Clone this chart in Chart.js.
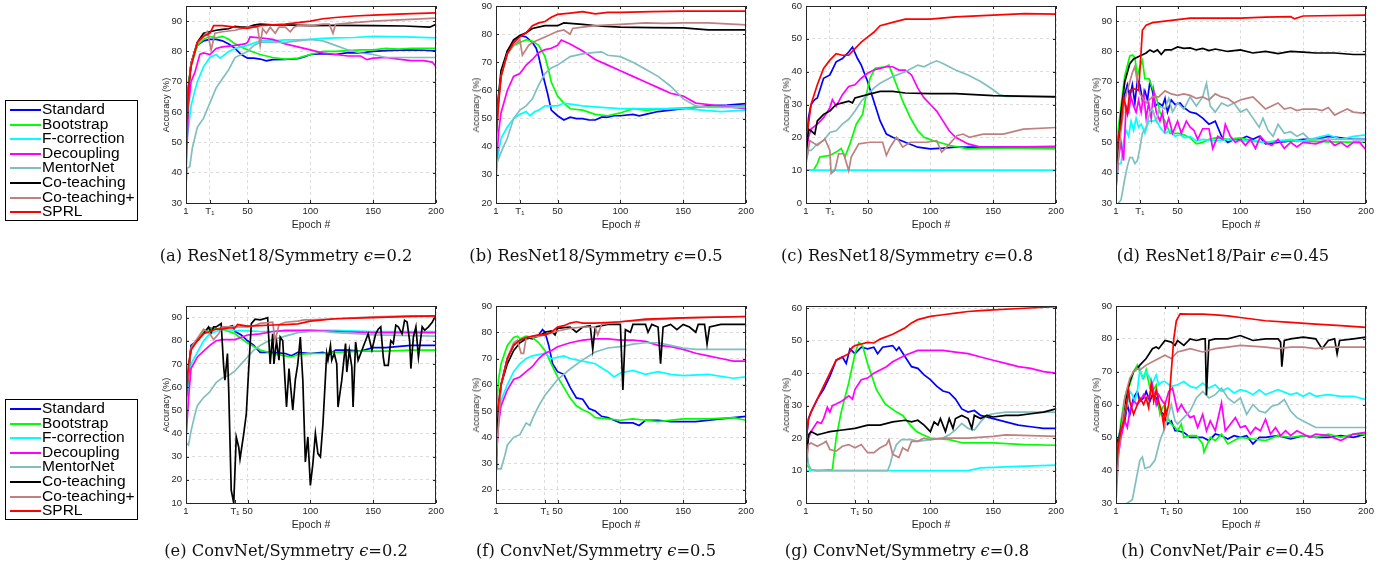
<!DOCTYPE html>
<html>
<head>
<meta charset="utf-8">
<script src="https://cdn.jsdelivr.net/npm/chart.js@4.4.1/dist/chart.umd.min.js"></script>
<style>
  body { margin: 0; background: #fff; width: 1396px; height: 569px; position: relative; overflow: hidden; font-family: "Liberation Sans", Arial, sans-serif; }
  .panel { position: absolute; }
  .ylab { position: absolute; font-size: 9.2px; color: #262626; transform: translate(-50%, -50%) rotate(-90deg); white-space: nowrap; }
  .xlab { position: absolute; font-size: 10.5px; color: #262626; transform: translate(-50%, -50%); white-space: nowrap; }
  .cap { position: absolute; font-family: "DejaVu Serif", serif; font-size: 16.3px; color: #111; transform: translate(-50%, -50%); white-space: nowrap; }
  .legend { position: absolute; left: 5px; width: 131px; border: 1px solid #000; background: #fff; padding: 1px 0; }
  .legend div { height: 14.6px; line-height: 14.6px; font-size: 15.5px; position: relative; padding-left: 36px; white-space: nowrap; }
  .legend span { position: absolute; left: 4px; top: 7px; width: 31px; height: 2px; }
</style>
</head>
<body>
<script>
const METHODS = ["Standard", "Bootstrap", "F-correction", "Decoupling", "MentorNet", "Co-teaching", "Co-teaching+", "SPRL"];
const KEYS = ["standard", "bootstrap", "fcorr", "decoupling", "mentornet", "coteach", "coteachPlus", "sprl"];
const COLORS = ["#0000ff", "#00ff00", "#00ffff", "#ff00ff", "#80bfbf", "#000000", "#bf8080", "#ff0000"];

const X_TICKS_TOP = [1, 20, 50, 100, 150, 200];   // T1 = 20
const X_TICKS_BOTTOM = [1, 40, 50, 100, 150, 200]; // T1 = 40

const CAPTIONS = [
	"(a) ResNet18/Symmetry <i>ϵ</i>=0.2", "(b) ResNet18/Symmetry <i>ϵ</i>=0.5",
	"(c) ResNet18/Symmetry <i>ϵ</i>=0.8", "(d) ResNet18/Pair <i>ϵ</i>=0.45",
	"(e) ConvNet/Symmetry <i>ϵ</i>=0.2", "(f) ConvNet/Symmetry <i>ϵ</i>=0.5",
	"(g) ConvNet/Symmetry <i>ϵ</i>=0.8", "(h) ConvNet/Pair <i>ϵ</i>=0.45"
];

// [epoch, accuracy]
const panelA = {
	standard: [[1,50],[3,68],[5,76],[8,80],[10,82],[15,83.5],[20,84],[25,84],[30,83.5],[35,82.5],[40,81],[45,79],[50,77.8],[55,77.8],[60,77.5],[65,76.9],[70,77.3],[80,77.4],[90,77.6],[95,78.2],[100,79],[110,79.3],[120,79],[130,79.6],[140,79.5],[150,80],[160,80.3],[175,80.5],[190,80.4],[200,80.2]],
	bootstrap: [[1,58],[3,70],[5,75],[10,82],[15,84],[20,85],[25,84.5],[30,85],[35,84],[40,82.5],[45,81.5],[50,80.5],[60,79],[70,78],[80,77.5],[90,77.8],[100,79],[110,80],[120,80],[130,80.3],[140,80.5],[150,80.5],[160,81],[170,80.8],[180,81],[200,81]],
	fcorr: [[1,48.5],[3,55],[5,62],[8,67],[10,70],[15,75],[20,78],[25,79],[28,77.8],[32,79],[35,80],[40,81],[45,81.5],[50,82],[60,83.5],[70,83.5],[80,83.8],[90,83.8],[100,84],[110,84.3],[120,84.5],[135,84.6],[150,85],[175,84.8],[200,84.5]],
	decoupling: [[1,40],[3,62],[5,70],[8,73],[12,79],[15,79.5],[20,79],[25,81],[30,81.5],[40,82],[48,82.5],[50,83],[52,84.8],[60,84.5],[70,84],[80,82.5],[90,81.5],[100,80.5],[110,79.5],[120,79],[130,78.5],[140,78.5],[145,77.3],[150,77.8],[160,78],[170,77.5],[180,77],[190,77],[197,76.5],[200,75]],
	mentornet: [[1,36],[2,41.5],[4,42],[6,48],[10,55],[15,58],[20,63],[25,68],[30,71],[35,74],[40,78],[45,79],[50,80],[55,82],[60,83],[70,83],[80,83],[90,83.5],[100,84],[110,83.5],[120,82],[130,80.5],[140,79.5],[150,79],[160,78],[180,78],[200,78]],
	coteach: [[1,48],[3,68],[5,76],[10,83],[15,86],[20,86.5],[25,87],[30,87.3],[35,87.5],[40,88.3],[45,88],[50,88],[55,88.7],[60,89],[70,88.8],[80,88.8],[100,88.5],[120,88.6],[150,88.5],[175,88.4],[195,88],[200,89]],
	coteachPlus: [[1,46],[3,68],[5,76],[10,83],[15,85],[18,86.5],[21,80.5],[24,86],[30,86.5],[40,87],[50,88],[55,88],[58,88],[60,82],[62,87.5],[65,86],[68,88],[72,86],[75,88],[80,88],[84,86.5],[87,88],[90,88.5],[100,88.5],[110,89],[115,89],[118,86],[120,89],[135,89.5],[150,90],[175,90.5],[200,91]],
	sprl: [[1,50],[3,68],[5,75],[10,83],[15,85],[20,86],[23,88.5],[30,88.5],[40,88],[50,87.6],[60,88.5],[80,89],[100,90],[110,90.8],[120,91.2],[135,91.7],[150,92],[175,92.4],[200,92.7]]
};

const panelB = {
	standard: [[1,44],[3,57],[5,65],[10,74],[15,77],[20,79.5],[25,79],[30,77],[33,75],[35,72],[38,66],[42,59],[45,53],[50,51],[55,49.5],[60,50.5],[65,50],[70,50],[75,49.5],[80,49.5],[85,50.5],[90,50.5],[95,51],[100,51],[110,51.5],[115,51],[120,51.5],[130,52.5],[140,53],[150,53.5],[160,54],[170,54.5],[185,54.8],[200,55.3]],
	bootstrap: [[1,47],[3,58],[5,65],[10,73],[15,76],[20,77],[25,78],[30,77.5],[35,76],[40,72],[43,67],[45,63],[50,58],[55,55.5],[60,53.5],[70,53],[80,51.5],[90,51],[100,52],[110,53.5],[120,53],[140,53.5],[160,54],[180,54.5],[200,54.5]],
	fcorr: [[1,33],[3,38],[5,43],[10,47],[15,50],[20,51.5],[25,52.5],[28,51],[32,52.5],[35,53],[40,54.5],[50,54.5],[55,55.5],[70,54.5],[85,54],[100,53.5],[125,53.5],[150,53.5],[165,53],[180,52.5],[200,53]],
	decoupling: [[1,30],[3,45],[5,52],[10,60],[15,65],[20,66],[25,69],[30,71],[35,73.5],[40,74.5],[45,75],[50,76],[53,77.9],[60,76.5],[70,74],[80,71],[90,69],[100,67],[110,65],[120,63],[130,61],[140,59],[150,58],[160,55.5],[170,55],[180,54.5],[190,54],[200,53.5]],
	mentornet: [[1,28],[2,34.5],[5,38],[10,43],[15,50],[20,53],[25,54.5],[30,57],[35,62],[40,66],[45,68],[50,69],[60,72],[70,73],[80,73.5],[85,73.7],[90,72.5],[100,72],[110,70],[120,67.5],[130,65],[140,61.5],[150,57],[160,54.5],[170,54],[200,54]],
	coteach: [[1,45],[3,58],[5,67],[10,74],[15,78],[20,79.5],[25,80.5],[30,82],[40,83],[50,83],[55,84],[70,83.5],[85,82.8],[100,82.5],[125,82.3],[150,82.2],[170,81.5],[200,81.5]],
	coteachPlus: [[1,40],[3,56],[5,65],[10,73],[15,76],[20,78],[22,72.5],[27,76],[30,77],[40,79],[50,81],[55,81.5],[60,80],[62,82],[70,82.5],[80,83],[100,83.5],[120,84],[135,83.8],[150,84],[170,84],[200,83.3]],
	sprl: [[1,43],[3,55],[5,65],[10,73],[15,77],[20,79],[25,80.5],[30,83],[35,84],[40,84.5],[45,86],[50,87],[60,87.5],[70,88],[80,87.2],[90,87.7],[100,87.7],[125,88],[150,88.2],[200,88.2]]
};

const panelC = {
	standard: [[1,15],[3,26],[5,30],[8,31.5],[10,32],[15,38],[20,39],[25,43],[30,44],[35,46],[38,47.5],[42,44],[45,42],[50,37],[55,31],[60,25],[65,21],[70,20],[80,18.5],[90,17],[100,16.5],[110,16.7],[120,17],[150,17],[200,17.2]],
	bootstrap: [[1,10],[7,10],[10,12],[12,14],[20,14.5],[25,15.5],[29,16.6],[32,14],[36,18],[41,24],[46,27],[49,33],[52,38],[56,41],[64,41.5],[67,42],[73,36],[78,31],[84,26],[90,22],[95,20],[102,19],[116,17.5],[130,16.5],[160,16.8],[200,16.5]],
	fcorr: [[1,10],[200,10]],
	decoupling: [[1,14],[3,20],[5,22.5],[10,24],[15,26],[20,29],[22,31.5],[25,29.5],[30,33],[35,35.5],[40,36],[45,38],[50,39.5],[55,40.5],[60,41],[65,41.5],[70,41.5],[75,40.5],[80,40.5],[85,39],[90,35],[95,32],[100,30],[105,28],[110,25],[115,22],[120,20],[130,18],[140,17],[150,17],[200,17.2]],
	mentornet: [[1,13],[3,16],[5,16],[10,18],[15,19],[20,21.5],[25,22],[30,24],[35,25.5],[40,28],[45,31],[50,33],[55,35],[60,36.5],[70,38.5],[80,40],[90,42],[95,41.5],[100,42.5],[105,43.3],[110,42.5],[120,40.5],[130,39],[140,37],[150,34.5],[155,33],[160,32.5],[200,32.5]],
	coteach: [[1,15],[3,22.5],[5,22],[8,21],[10,25],[15,27],[20,28],[25,30],[30,30.5],[35,31],[38,30.5],[40,32],[50,33],[60,34],[70,34],[80,33.5],[100,33.3],[120,33.3],[150,32.7],[200,32.3]],
	coteachPlus: [[1,12],[4,19],[10,17.5],[16,19.5],[20,16],[21,9],[24,10],[27,15],[31,15],[35,9.8],[37,14],[43,18],[52,18.5],[62,18.5],[65,14.5],[68,17],[73,20],[78,17],[84,18.5],[97,18.5],[105,19],[109,15.5],[113,17],[121,20.5],[126,21],[131,20],[142,21],[158,21],[174,22.5],[200,23]],
	sprl: [[1,20],[3,24],[5,30],[10,36],[15,41],[20,43.5],[25,45.5],[30,45],[35,45],[40,47],[45,49],[50,50.5],[55,52],[60,54],[70,55],[80,56],[90,56],[100,56],[120,56.7],[150,57.2],[175,57.7],[200,57.5]]
};

const panelD = {
	standard: [[1,38],[3,50],[5,57],[8,66],[10,69],[12,65],[14,69],[16,63],[18,70.5],[20,69],[22,64],[24,67],[26,64],[28,70],[30,67],[32,62],[35,63],[38,62],[40,64.5],[42,60],[45,64],[48,62.5],[52,63],[55,61.5],[60,60],[65,59.5],[70,58],[75,56],[80,57],[85,52],[90,50],[95,51],[100,51],[105,52],[110,51],[115,52],[120,49.5],[130,50],[140,50.5],[150,51],[160,51],[170,52],[180,51.5],[190,51],[200,51]],
	bootstrap: [[1,42],[3,55],[5,62],[8,72],[12,78.5],[14,78.8],[16,78],[18,72],[20,75],[22,77],[24,71],[27,71],[30,68],[33,65],[36,60],[40,57],[44,53],[48,53],[52,53],[55,52.5],[60,51.5],[65,49.5],[70,50],[75,51],[80,51.5],[90,51],[100,51.5],[110,50.5],[120,50],[130,50.5],[140,50.5],[150,50.5],[170,50.2],[200,50]],
	fcorr: [[1,36],[3,43],[5,43],[7,50],[9,54],[11,52],[13,57],[15,54],[17,58],[19,55],[21,56],[24,53],[27,57],[30,57],[33,57.5],[36,55],[40,53],[44,54],[48,52],[52,52.5],[56,51.5],[60,52],[65,50.5],[70,51],[80,50.5],[90,51],[100,50.5],[110,50.5],[120,50],[130,50.5],[140,51],[150,50.5],[160,51.5],[170,52.5],[180,51],[190,52],[200,52.5]],
	decoupling: [[1,35],[3,45],[5,50],[7,44],[9,62],[11,60],[13,65],[15,62],[17,60],[19,64],[21,60],[23,66],[25,58],[27,63],[29,58],[31,67],[33,60],[36,57],[38,60],[40,54],[43,58],[46,53],[50,57],[53,53],[57,57],[60,55],[63,54],[66,51],[70,54.5],[75,54.5],[78,48],[82,52],[86,51],[88,56],[92,52],[96,50],[100,51],[104,49],[108,51],[112,48],[116,52],[120,50],[125,49],[130,51],[135,48],[140,50],[145,48.5],[150,50],[160,49.5],[170,51],[175,49],[180,50],[185,48.5],[190,50],[195,50],[200,47.5]],
	mentornet: [[1,28],[3,30],[5,31],[8,38],[10,42],[12,45],[14,45],[16,43],[18,44],[20,48],[22,53],[25,55],[28,60],[30,61],[33,57],[36,62],[40,61],[43,64.5],[46,60],[50,63],[55,61],[60,65],[65,62],[70,65],[73,69.5],[76,62],[80,60],[85,63],[90,62],[95,63],[100,60],[105,61],[110,58],[115,55],[118,58],[122,54],[126,52],[130,56],[135,53],[140,53.5],[145,52],[150,53],[155,51],[160,51],[200,51]],
	coteach: [[1,40],[5,60],[8,70],[12,76],[15,77.5],[20,78.5],[25,79.5],[28,80.5],[31,79.8],[34,80.5],[37,79],[40,80.5],[45,80.5],[50,81.5],[55,81],[60,81.2],[65,80.5],[70,81],[75,80.3],[80,80.8],[90,80],[100,80.5],[110,79.5],[120,80],[130,79.3],[140,80],[150,79.8],[160,79.5],[175,79.5],[190,79],[200,79]],
	coteachPlus: [[1,35],[3,45],[5,54],[8,64],[10,67],[12,70],[14,73],[16,75],[18,70],[20,66],[25,63],[30,65],[35,65],[40,67],[45,66],[50,65.5],[55,66],[60,65.5],[65,64.5],[70,65],[75,64],[80,66],[85,65],[90,64.5],[95,63],[100,64],[105,64.5],[110,65],[115,63],[120,61],[125,62],[130,63],[135,61],[140,61.5],[145,60.5],[150,61],[160,61],[165,60.5],[170,61.5],[175,59],[180,60],[185,61],[190,60],[200,59.5]],
	sprl: [[1,43],[3,52],[5,56],[7,65],[10,59.5],[12,67],[15,67.7],[19,67.2],[21,80],[22,87],[25,88.7],[30,89.5],[40,90],[50,90.5],[60,91],[80,91],[100,91],[120,91.3],[140,91.5],[143,90.8],[150,91.7],[200,92]]
};

const panelE = {
	standard: [[1,55],[5,78],[10,80],[15,84],[20,85.5],[25,85],[30,85.5],[35,86],[38,86.5],[40,84],[45,82.5],[50,80],[55,78],[60,75],[70,75],[80,74.5],[85,73.5],[90,75],[100,74.5],[110,75],[115,74],[120,76],[130,76],[140,75.5],[150,77],[160,77],[180,78],[200,78]],
	bootstrap: [[1,58],[5,77],[10,80],[15,84],[20,85],[30,85],[35,84],[40,83],[45,81],[50,79],[55,77.5],[60,76],[70,74.5],[80,73.5],[85,73],[90,74],[100,74.5],[110,74.5],[120,75],[140,75.5],[160,75.5],[180,76],[200,76]],
	fcorr: [[1,52],[5,70],[10,75],[15,80],[20,83],[25,84],[30,85],[40,84.5],[50,84.3],[60,84],[80,84],[100,84.5],[120,84.5],[150,84],[200,84]],
	decoupling: [[1,37],[3,55],[5,68],[10,73],[15,75.5],[20,78],[25,80],[30,80.5],[40,80.5],[45,81.5],[50,82.5],[60,83],[70,84],[80,84.5],[100,84.5],[120,84],[150,83.5],[200,83.5]],
	mentornet: [[1,36],[3,35],[5,41],[8,48],[10,52],[15,55.5],[20,58],[25,62],[30,64],[35,65],[40,67],[45,70],[50,73],[55,76],[60,78],[65,79.5],[70,80.5],[80,82],[90,83.5],[100,84],[110,84],[120,83.5],[140,83],[150,82.5],[200,82]],
	coteach: [[1,55],[5,77],[10,80],[15,83],[19,86],[21,83.5],[23,86],[25,86],[29,87.4],[31,68.7],[32,63],[34,74.5],[35,58.6],[37,15.5],[39,10],[41,38.5],[43,34],[44,29],[47,40],[49,48.5],[51,68.7],[53,87.4],[56,89.3],[60,89],[64,89.6],[66,90],[68,70],[70,83],[71,70],[73,80],[75,71.6],[76,81.6],[78,80],[81,51.4],[83,68],[86,50],[88,63],[90,70],[92,81.6],[94,63],[96,27.7],[98,38.5],[100,17.6],[102,27],[104,40],[106,31.3],[108,29.9],[110,44],[113,74.5],[114,71.6],[116,78],[117,71.6],[119,74.5],[121,70],[122,51.4],[125,63],[128,78.8],[129,66.5],[131,76],[133,68.7],[134,51.4],[136,79.5],[138,71.6],[142,77.3],[146,83],[149,76],[152,83],[154,85],[156,86],[158,73],[159,69.4],[162,69.4],[164,80],[166,78.8],[168,86.7],[170,86],[173,83],[175,88.8],[177,88.1],[179,80],[180,68],[182,81.6],[184,86],[186,73],[189,86],[191,84.5],[194,86],[197,88],[200,91]],
	coteachPlus: [[1,55],[5,77],[10,81],[15,85],[20,83],[23,80.5],[27,83],[30,86],[40,86],[50,86],[55,86.5],[60,87.5],[70,88],[72,80],[75,87],[80,88],[90,88.5],[95,89],[100,89],[120,89.5],[150,90.3],[180,90.7],[200,90.5]],
	sprl: [[1,55],[3,70],[5,76],[10,80],[15,83],[20,84],[25,85],[30,85],[35,85.5],[40,85.5],[42,87],[50,86.3],[60,86.5],[70,86.8],[80,87],[90,87.3],[100,88.5],[120,89.5],[150,90],[180,90.5],[200,90.7]]
};

const panelF = {
	standard: [[1,44],[5,60],[10,70],[15,75],[20,77],[25,78],[30,77.5],[35,79],[38,81],[40,80],[43,75],[46,68],[50,65],[55,64],[60,59],[65,55],[70,54.5],[75,51],[80,50],[85,48],[90,47.5],[95,46.5],[100,45.5],[110,45.5],[115,44.5],[120,46.5],[130,46.5],[140,46],[150,46],[160,46],[180,47],[200,48]],
	bootstrap: [[1,48],[3,62],[5,68],[10,75],[15,78],[18,78.5],[20,77.5],[25,78.5],[30,78],[35,76],[40,73],[45,68],[50,63],[55,59],[60,55],[65,52],[70,50.5],[75,49.5],[80,47.5],[90,47],[100,46.5],[110,47],[120,46.5],[130,46],[150,47],[170,47],[190,47.5],[200,46.5]],
	fcorr: [[1,38],[5,54],[10,60],[15,65],[20,68],[25,70],[30,71],[35,71.5],[40,72],[45,70],[50,70.5],[55,71],[60,70],[65,69.5],[70,69],[80,68],[90,65],[95,63],[100,64.5],[110,65.5],[120,64],[130,65],[140,64],[150,63.5],[170,64],[190,62.5],[200,63]],
	decoupling: [[1,31],[3,45],[5,52],[10,58],[15,62],[20,63],[25,65],[30,67],[35,70],[40,72],[45,73],[50,74.5],[60,76],[70,77],[80,77.5],[90,77.5],[100,77],[110,77],[120,76.5],[130,75],[140,74.5],[150,73.5],[160,72],[170,71],[180,70],[190,69],[200,69]],
	mentornet: [[1,36],[2,28],[5,28],[8,33],[10,37],[15,40],[20,41],[25,45.5],[28,44.5],[30,47],[35,52],[40,56],[45,59],[50,62],[55,64],[60,66],[70,69.5],[80,72.5],[90,74],[100,74.5],[110,75.5],[120,76],[130,76],[140,75],[150,74],[160,73.5],[200,73.5]],
	coteach: [[1,24],[2,45],[5,60],[10,68],[15,73],[20,76],[25,77.5],[30,78],[35,78.5],[40,80],[45,80.5],[48,79],[50,81.5],[55,81.8],[60,82],[65,80],[70,82],[76,82.5],[78,73.5],[80,82],[90,83],[100,83],[102,58],[104,81],[108,80],[110,83],[120,83],[122,80],[125,83],[130,82],[132,68],[134,82],[140,83],[145,81],[150,83],[155,82],[160,80],[162,83],[167,83],[169,75.5],[171,82],[180,83],[200,83]],
	coteachPlus: [[1,30],[5,60],[10,70],[15,76],[18,77],[21,72],[23,72],[25,78],[30,78],[40,79],[50,80.5],[60,81.5],[70,82],[80,82],[82,79],[85,83],[100,84],[150,85.5],[200,86]],
	sprl: [[1,46],[5,60],[10,70],[15,75],[20,77],[25,78],[30,78.5],[35,79],[40,79],[45,80],[50,82],[55,82.5],[60,83.5],[65,84],[70,83.5],[80,83.5],[100,84],[120,85],[150,85.5],[200,86]]
};

const panelG = {
	standard: [[1,19],[3,26],[5,28],[10,32],[15,35],[20,39],[25,44],[30,45],[33,43],[36,47.5],[40,46],[45,48],[50,47.5],[55,48],[58,46],[62,48],[70,48.5],[73,47],[75,48],[80,45],[85,42],[90,41.5],[95,39.5],[100,38],[105,36],[110,34.5],[115,34],[120,32],[125,29],[130,28],[135,28.5],[140,27],[150,26],[160,25],[170,24],[180,23.5],[190,23],[200,23]],
	bootstrap: [[1,12],[3,11],[5,10.2],[10,10],[22,10.3],[25,20],[29,28],[35,37],[40,46],[43,49.5],[46,48.5],[50,43],[57,35],[64,30.5],[73,28],[78,27],[84,24],[89,22],[94,21],[100,20],[115,19.5],[126,18.5],[150,18.5],[175,18],[200,17.8]],
	fcorr: [[1,10],[130,10],[140,10.8],[150,11],[170,11.3],[200,11.7]],
	decoupling: [[1,14],[3,20],[5,22],[10,25],[13,24.5],[15,26],[18,29.5],[20,28],[22,30],[25,30.5],[30,31.5],[35,33],[38,32],[40,35],[45,38],[50,38.5],[55,40],[60,41],[65,42],[70,43.5],[75,44.5],[80,45.5],[90,47],[100,47],[110,47],[120,46.5],[130,46],[140,45],[150,44],[160,43],[170,42],[180,41.5],[190,40.5],[200,40]],
	mentornet: [[1,18],[3,12],[5,10.3],[10,10],[66,10],[68,12],[70,15],[73,18],[77,19.5],[85,19.5],[90,19],[100,19.5],[110,20],[115,21],[120,22.5],[125,24.5],[130,23],[135,22.5],[140,25],[145,27],[150,27.5],[160,28],[200,28]],
	coteach: [[1,11],[3,21],[5,22],[10,21],[15,21.5],[20,22],[30,22.5],[40,23],[50,24],[60,24],[70,25],[80,25.5],[85,25],[90,25.5],[95,24],[100,22],[103,25],[106,24],[108,26],[112,22],[115,26],[118,23],[120,26],[125,27],[130,26],[133,23],[135,27],[140,26],[145,27],[150,26.5],[160,27],[170,27],[180,27.5],[190,28],[200,29]],
	coteachPlus: [[1,11],[3,18],[5,18.5],[10,17.5],[15,18.5],[17,19],[20,16.5],[25,16],[30,17.5],[35,18],[40,17],[45,18],[50,15.5],[55,15.5],[60,17],[65,18],[67,19.5],[70,15],[75,14],[78,17],[82,16],[85,19],[90,19],[95,20],[100,19.5],[110,20],[120,20],[130,20],[150,20.5],[160,21],[200,20.5]],
	sprl: [[1,19],[3,26],[5,28],[10,32],[15,36],[20,40],[25,44],[30,45],[35,46],[38,48],[40,48.5],[45,49],[50,49.5],[55,49.3],[60,50.5],[70,52],[80,54],[85,55.5],[90,56.5],[100,57.5],[110,58],[120,58.5],[130,59],[140,59.3],[150,59.5],[175,60],[200,60.5]]
};

const panelH = {
	standard: [[1,47],[3,50],[5,53],[8,55],[10,60],[12,57],[15,62],[18,64],[20,61],[23,62],[25,64],[28,61],[30,63],[33,62],[36,58],[39,57],[42,54],[45,55],[48,52],[50,52],[55,51.5],[60,50],[65,50],[70,50],[75,49],[80,51],[85,50.5],[90,49.5],[95,50.5],[100,50],[105,50.5],[110,48],[115,50],[120,50],[130,50.5],[140,49.5],[150,50.5],[160,50],[170,50],[180,50.5],[190,50],[200,51]],
	bootstrap: [[1,35],[3,48],[5,55],[8,62],[10,65],[12,66],[15,70],[18,72],[20,70],[23,68],[25,70.5],[28,65],[30,64],[33,66],[36,57],[38,59],[40,60],[42,56],[45,54],[48,53],[50,52],[53,54],[55,50],[60,50.5],[65,50.5],[70,48],[71,45.5],[76,50],[80,49],[85,51],[90,48],[95,49],[100,50],[110,49.5],[120,49],[130,50.5],[140,50],[150,50.5],[160,50],[170,51],[180,50],[190,51],[200,51]],
	fcorr: [[1,36],[3,48],[5,52],[8,57],[10,60],[12,64],[14,63],[16,61],[18,64],[20,71],[22,68],[25,70],[28,68],[30,66.5],[33,69],[35,66],[38,67],[40,67],[45,65.5],[50,66],[55,67],[60,65.5],[65,65],[70,66.5],[75,65],[80,66],[85,64],[90,65],[95,63.5],[100,64.5],[105,64],[110,63],[115,64.5],[120,63],[130,64.5],[140,63],[145,63.5],[150,62.5],[155,63.5],[160,62.5],[170,63],[180,62.5],[190,62.5],[200,61.5]],
	decoupling: [[1,35],[3,45],[5,50],[8,55],[10,53],[12,58],[15,61],[18,60],[20,61],[23,63],[25,61.5],[28,63],[30,66],[33,60],[35,63],[38,61],[40,60],[43,64],[46,65],[50,58],[53,60],[56,58],[60,56],[63,56.5],[66,53],[70,57],[73,52],[76,55],[80,52],[85,60.5],[88,52],[92,54],[96,56],[100,53],[104,53.5],[108,51],[112,53],[116,52],[120,55.5],[124,51],[128,53],[132,50.5],[136,52],[140,50.5],[145,52],[150,51],[155,50],[160,51],[170,50.5],[180,49],[190,51],[200,51.5]],
	mentornet: [[1,28],[10,30],[14,31],[17,37],[20,43],[22,44],[24,40.5],[28,41],[32,43],[36,49],[40,53],[43,57],[45,60],[48,55],[50,54],[55,56],[60,58],[65,62],[70,64],[75,62],[80,63],[85,65],[90,62],[95,60.5],[100,62],[105,57],[110,60],[115,58],[120,57.5],[125,59.5],[130,60],[135,61.5],[140,58],[145,56],[150,55],[155,54],[160,53],[200,53]],
	coteach: [[1,40],[3,48],[5,53],[8,60],[10,64],[12,67],[15,70],[18,71],[20,72],[25,74],[30,77],[33,77.5],[35,77],[38,78.5],[40,79.5],[45,79],[48,78],[50,79.5],[55,78],[60,80],[65,79.5],[70,80],[72,80],[73,62.8],[75,79.5],[80,80],[90,80],[100,81],[110,79.5],[120,80],[130,80],[132,79],[133,71.5],[135,79.5],[140,80],[150,80.5],[160,80],[165,77],[170,79.5],[175,80],[177,75.5],[179,79.5],[190,80],[200,80.5]],
	coteachPlus: [[1,30],[3,45],[5,52],[8,62],[10,65],[12,68],[15,70],[18,71],[20,70.5],[25,72],[30,73],[35,74],[40,75],[45,74],[50,76],[55,76.5],[60,77],[70,76],[80,77],[90,77.5],[100,78],[120,77.5],[130,77],[140,77.5],[150,77.5],[160,77],[170,77.5],[180,77.5],[200,77.5]],
	sprl: [[1,40],[3,48],[5,52],[8,56],[11,64.4],[12,61],[15,57],[19,61],[20,62],[23,60],[25,62],[27,59],[29,66.4],[31,61],[33,64.4],[35,60.8],[37,58.3],[39,53.7],[40,59.3],[41,57],[43,60],[45,70],[47,80],[49,85.5],[52,87.6],[60,87.5],[70,87.5],[80,87.3],[90,87],[100,86.5],[120,85.5],[140,85],[160,84.5],[180,84],[200,83.5]]
};

// axis limits and ticks per panel
const Y_LIMITS = [[30, 95], [20, 90], [0, 60], [30, 95], [10, 95], [15, 90], [0, 60.7], [30, 90]];
const Y_TICKS = [
	[30, 40, 50, 60, 70, 80, 90], [20, 30, 40, 50, 60, 70, 80, 90],
	[0, 10, 20, 30, 40, 50, 60], [30, 40, 50, 60, 70, 80, 90],
	[10, 20, 30, 40, 50, 60, 70, 80, 90], [20, 30, 40, 50, 60, 70, 80, 90],
	[0, 10, 20, 30, 40, 50, 60], [30, 40, 50, 60, 70, 80, 90]
];
const PANEL_DATA = [panelA, panelB, panelC, panelD, panelE, panelF, panelG, panelH];

const AREA_LEFT = [186, 496, 806, 1116];
const AREA_TOP = [6, 306];
const AREA_W = 250, AREA_H = 197;
const CAPTION_X = [286, 596, 907, 1223];
const CAPTION_Y = [255, 550];
const LEGEND_TOP = [100, 399];

const axisColor = "#262626";
const tickFont = { family: "'Liberation Sans', Arial, sans-serif", size: 9.5 };

const boxPlugin = {
	id: "matlabBox",
	afterDraw(chart) {
		const { ctx, chartArea: a, scales } = chart;
		ctx.save();
		ctx.strokeStyle = axisColor;
		ctx.lineWidth = 1;
		ctx.beginPath();
		scales.x.ticks.forEach((t) => {
			const x = Math.round(scales.x.getPixelForValue(t.value)) + 0.5;
			ctx.moveTo(x, a.bottom); ctx.lineTo(x, a.bottom - 3);
			ctx.moveTo(x, a.top); ctx.lineTo(x, a.top + 3);
		});
		scales.y.ticks.forEach((t) => {
			const y = Math.round(scales.y.getPixelForValue(t.value)) + 0.5;
			ctx.moveTo(a.left, y); ctx.lineTo(a.left + 3, y);
			ctx.moveTo(a.right, y); ctx.lineTo(a.right - 3, y);
		});
		ctx.stroke();
		ctx.strokeRect(a.left + 0.5, a.top + 0.5, a.right - a.left - 1, a.bottom - a.top);
		ctx.restore();
	}
};

function addText(cls, html, x, y) {
	const el = document.createElement("div");
	el.className = cls;
	el.innerHTML = html;
	el.style.left = x + "px";
	el.style.top = y + "px";
	document.body.appendChild(el);
}

function makePanel(index) {
	const row = Math.floor(index / 4);
	const col = index % 4;
	const L = AREA_LEFT[col];
	const T = AREA_TOP[row];
	const xTicks = row === 0 ? X_TICKS_TOP : X_TICKS_BOTTOM;
	const t1 = xTicks[1];
	const data = PANEL_DATA[index];
	const [yMin, yMax] = Y_LIMITS[index];
	const yTicks = Y_TICKS[index];

	const padLeft = 40, padTop = 5, padRight = 12, padBottom = 20;
	const canvas = document.createElement("canvas");
	canvas.width = AREA_W + padLeft + padRight;
	canvas.height = AREA_H + padTop + padBottom;
	canvas.className = "panel";
	canvas.style.left = (L - padLeft) + "px";
	canvas.style.top = (T - padTop) + "px";
	canvas.style.width = canvas.width + "px";
	canvas.style.height = canvas.height + "px";
	document.body.appendChild(canvas);

	const gridOpts = { color: "#d4d4d4", lineWidth: 0.8, drawTicks: false };
	const borderOpts = { display: false, dash: [3, 3] };

	new Chart(canvas, {
		type: "line",
		data: {
			datasets: KEYS.map((key, i) => ({
				label: METHODS[i],
				data: data[key].map(([x, y]) => ({ x, y })),
				borderColor: COLORS[i],
				borderWidth: 1.7,
				pointRadius: 0,
				tension: 0,
				fill: false,
				order: KEYS.length - 1 - i
			}))
		},
		options: {
			responsive: false,
			animation: false,
			events: [],
			layout: { padding: { left: 0, top: padTop, right: padRight, bottom: 0 } },
			plugins: { legend: { display: false }, tooltip: { enabled: false } },
			scales: {
				x: {
					type: "linear",
					min: 1,
					max: 200,
					afterBuildTicks: (s) => { s.ticks = xTicks.map((v) => ({ value: v })); },
					afterFit: (s) => { s.height = padBottom; s.paddingLeft = 0; s.paddingRight = 0; },
					ticks: {
						font: tickFont, color: axisColor, padding: 3, maxRotation: 0, autoSkip: false,
						callback: (v) => (v === t1 ? "T\u2081" : String(v))
					},
					grid: gridOpts,
					border: borderOpts
				},
				y: {
					min: yMin,
					max: yMax,
					afterBuildTicks: (s) => { s.ticks = yTicks.map((v) => ({ value: v })); },
					afterFit: (s) => { s.width = padLeft; s.paddingTop = 0; s.paddingBottom = 0; },
					ticks: { font: tickFont, color: axisColor, padding: 4, autoSkip: false },
					grid: gridOpts,
					border: borderOpts
				}
			}
		},
		plugins: [boxPlugin]
	});

	addText("ylab", "Accuracy (%)", L - 20, T + AREA_H / 2);
	addText("xlab", "Epoch #", L + AREA_W / 2, T + AREA_H + 21);
	addText("cap", CAPTIONS[index], CAPTION_X[col], CAPTION_Y[row]);
}

function makeLegend(top) {
	const box = document.createElement("div");
	box.className = "legend";
	box.style.top = top + "px";
	METHODS.forEach((name, i) => {
		const rowEl = document.createElement("div");
		const sample = document.createElement("span");
		sample.style.background = COLORS[i];
		rowEl.appendChild(sample);
		rowEl.appendChild(document.createTextNode(name));
		box.appendChild(rowEl);
	});
	document.body.appendChild(box);
}

for (let i = 0; i < 8; i++) {
	makePanel(i);
}
LEGEND_TOP.forEach(makeLegend);
</script>
</body>
</html>
